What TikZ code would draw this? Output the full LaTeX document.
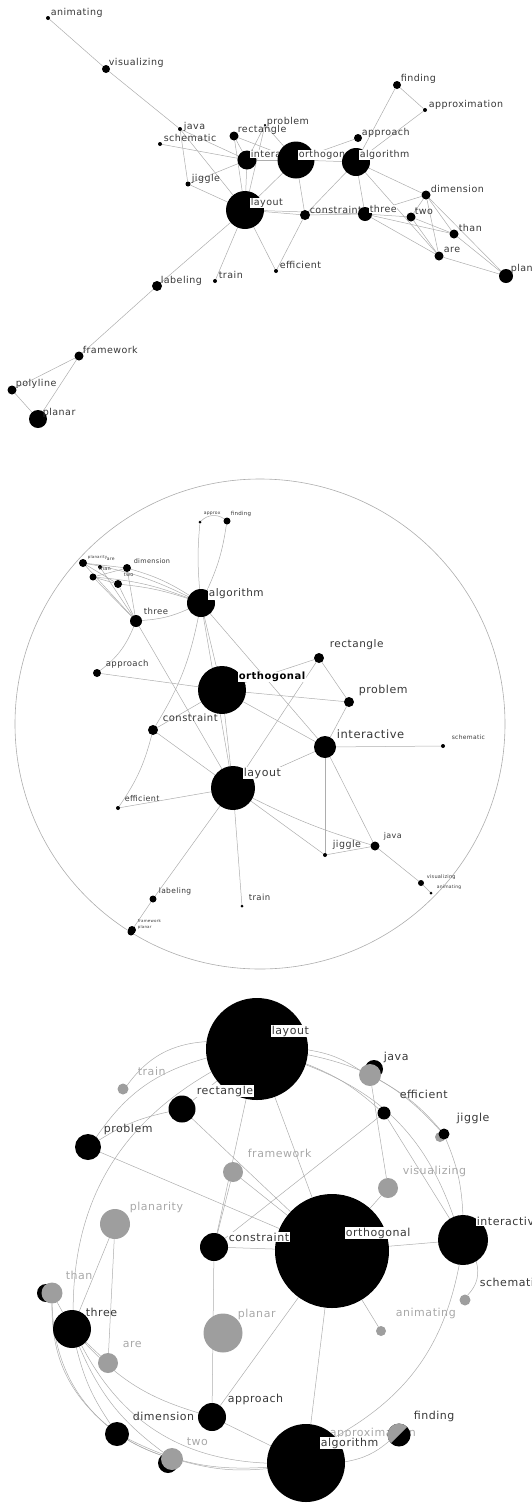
\documentclass[tikz,border=0pt]{standalone}
\usepackage{fontspec}
\newfontfamily\lab[LetterSpace=5]{DejaVu Sans}
\definecolor{edg}{gray}{0.68}
\definecolor{gnode}{gray}{0.62}
\definecolor{txt}{gray}{0.22}
\definecolor{txtl}{gray}{0.66}
\pgfdeclarelayer{edges}
\pgfsetlayers{edges,main}
\tikzset{
  bk/.style={circle, fill=black, inner sep=0pt, outer sep=0pt},
  gy/.style={circle, fill=gnode, inner sep=0pt, outer sep=0pt},
  ed/.style={draw=edg, line width=0.5pt},
  lb/.style={anchor=west, inner sep=0.6pt, text=txt},
  lbw/.style={lb, fill=white},
  lbl/.style={lb, text=txtl},
}
\newcommand\mynode[4]{\node[#1, minimum size=#4pt] (#2) at (#3) {};}
\newcommand\mylab[5]{\node[#1, font={\lab\fontsize{#4}{#4}\selectfont}] (#2) at (#3) {#5};}
\begin{document}
\begin{tikzpicture}[x=1pt,y=-1pt]
\useasboundingbox (0,0) rectangle (532,1505);
\clip (0,0) rectangle (532,1505);
% ================= PANEL 1 =================
\mynode{bk}{a-animating}{48,18}{4}
\mynode{bk}{a-visualizing}{106,69}{8}
\mynode{bk}{a-java}{180,129}{4}
\mynode{bk}{a-schematic}{160,144}{4}
\mynode{bk}{a-rectangle}{234,136}{9}
\mynode{bk}{a-problem}{265,125}{2.5}
\mynode{bk}{a-jiggle}{188,184}{5}
\mynode{bk}{a-approach}{358,138}{8}
\mynode{bk}{a-finding}{397,85}{8}
\mynode{bk}{a-approximation}{425,110}{4}
\mynode{bk}{a-dimension}{426,195}{9}
\mynode{bk}{a-constraint}{305,215}{10}
\mynode{bk}{a-two}{411,217}{9}
\mynode{bk}{a-than}{454,234}{9}
\mynode{bk}{a-are}{439,256}{9}
\mynode{bk}{a-planarity}{506,276}{14}
\mynode{bk}{a-efficient}{276,271}{4}
\mynode{bk}{a-train}{215,281}{4}
\mynode{bk}{a-labeling}{157,286}{10}
\mynode{bk}{a-framework}{79,356}{9}
\mynode{bk}{a-polyline}{12,390}{9}
\mynode{bk}{a-planar}{38,419}{18}
\mylab{lb}{a-animating-t}{50,13}{9.5}{animating}
\mylab{lb}{a-visualizing-t}{108,63}{9.5}{visualizing}
\mylab{lb}{a-java-t}{183,127}{9.5}{java}
\mylab{lb}{a-schematic-t}{163,138}{9.5}{schematic}
\mylab{lb}{a-rectangle-t}{237,130}{9.5}{rectangle}
\mylab{lb}{a-problem-t}{266,122}{9.5}{problem}
\mylab{lb}{a-jiggle-t}{191,179}{9.5}{jiggle}
\mylab{lb}{a-approach-t}{361,133}{9.5}{approach}
\mylab{lb}{a-finding-t}{400,79}{9.5}{finding}
\mylab{lb}{a-approximation-t}{428,105}{9.5}{approximation}
\mylab{lb}{a-dimension-t}{430,189}{9.5}{dimension}
\mylab{lb}{a-constraint-t}{309,210}{9.5}{constraint}
\mylab{lb}{a-two-t}{414,211}{9.5}{two}
\mylab{lb}{a-than-t}{458,228}{9.5}{than}
\mylab{lb}{a-are-t}{443,250}{9.5}{are}
\mylab{lb}{a-planarity-t}{510,269}{9.5}{planarity}
\mylab{lb}{a-efficient-t}{279,265}{9.5}{efficient}
\mylab{lb}{a-train-t}{218,275}{9.5}{train}
\mylab{lb}{a-labeling-t}{160,281}{9.5}{labeling}
\mylab{lb}{a-framework-t}{82,350}{9.5}{framework}
\mylab{lb}{a-polyline-t}{15,384}{9.5}{polyline}
\mylab{lb}{a-planar-t}{42,413}{9.5}{planar}
\mynode{bk}{a-interactive}{247,160}{19}
\mylab{lbw}{a-interactive-t}{250,154}{9.5}{interactive}
\mynode{bk}{a-orthogonal}{296,160}{37}
\mylab{lbw}{a-orthogonal-t}{298,155}{9.5}{orthogonal}
\mynode{bk}{a-algorithm}{356,162}{28}
\mylab{lbw}{a-algorithm-t}{359,155}{9.5}{algorithm}
\mynode{bk}{a-layout}{245,210}{38}
\mylab{lbw}{a-layout-t}{250,203}{9.5}{layout}
\mynode{bk}{a-three}{365,214}{14}
\mylab{lbw}{a-three-t}{369,209}{9.5}{three}
\begin{pgfonlayer}{edges}
\foreach \u/\v in {animating/visualizing, visualizing/java, java/jiggle, java/layout, java/interactive, schematic/interactive, jiggle/interactive, jiggle/layout, rectangle/interactive, rectangle/orthogonal, rectangle/layout, problem/interactive, problem/orthogonal, problem/layout, interactive/orthogonal, interactive/layout, orthogonal/layout, orthogonal/algorithm, orthogonal/approach, orthogonal/constraint, algorithm/finding, algorithm/approximation, finding/approximation, algorithm/constraint, algorithm/three, algorithm/dimension, algorithm/are, three/dimension, three/two, three/than, three/are, dimension/two, dimension/than, dimension/are, dimension/planarity, two/than, two/are, than/planarity, are/planarity, constraint/three, layout/constraint, layout/three, constraint/efficient, layout/efficient, layout/train, layout/labeling, labeling/framework, framework/polyline, framework/planar, polyline/planar}
  \draw[ed] (a-\u) -- (a-\v);
\end{pgfonlayer}
% ================= PANEL 2 =================
\draw[draw=edg, line width=0.6pt] (260,724) circle [radius=245pt];
\mynode{bk}{b-approx}{200,522}{3}
\mynode{bk}{b-finding}{227,521}{7}
\mynode{bk}{b-planarity}{83,563}{8}
\mynode{bk}{b-are}{100,567}{4}
\mynode{bk}{b-than}{93,577}{7}
\mynode{bk}{b-dimension}{127,568}{8}
\mynode{bk}{b-two}{118,584}{8}
\mynode{bk}{b-three}{136,621}{12}
\mynode{bk}{b-approach}{97,673}{8}
\mynode{bk}{b-rectangle}{319,658}{10}
\mynode{bk}{b-problem}{349,702}{10}
\mynode{bk}{b-interactive}{325,747}{22}
\mynode{bk}{b-schematic}{443,746}{4}
\mynode{bk}{b-constraint}{153,730}{10}
\mynode{bk}{b-efficient}{118,808}{4}
\mynode{bk}{b-jiggle}{325,855}{4}
\mynode{bk}{b-java}{375,846}{9}
\mynode{bk}{b-visualizing}{421,883}{6}
\mynode{bk}{b-animating}{431,893}{3}
\mynode{bk}{b-labeling}{153,899}{7}
\mynode{bk}{b-framework}{132,930}{8}
\mynode{bk}{b-planar}{131,932}{7}
\mynode{bk}{b-train}{242,906}{3}
\mylab{lb}{b-approx-t}{203,514}{4.5}{approx}
\mylab{lb}{b-finding-t}{230,514}{5.5}{finding}
\mylab{lb}{b-planarity-t}{87,557}{4}{planarity}
\mylab{lb}{b-are-t}{106,559}{4.5}{are}
\mylab{lb}{b-than-t}{98,569}{5}{than}
\mylab{lb}{b-dimension-t}{133,561}{6.5}{dimension}
\mylab{lb}{b-two-t}{123,575}{5}{two}
\mylab{lb}{b-three-t}{143,611}{8.5}{three}
\mylab{lb}{b-approach-t}{105,664}{8.5}{approach}
\mylab{lb}{b-rectangle-t}{329,645}{10.5}{rectangle}
\mylab{lb}{b-problem-t}{358,690}{11}{problem}
\mylab{lb}{b-interactive-t}{336,734}{11.5}{interactive}
\mylab{lb}{b-schematic-t}{451,737}{6}{schematic}
\mylab{lb}{b-constraint-t}{162,718}{10}{constraint}
\mylab{lb}{b-efficient-t}{124,799}{8}{efficient}
\mylab{lb}{b-jiggle-t}{332,845}{9.5}{jiggle}
\mylab{lb}{b-java-t}{383,836}{8}{java}
\mylab{lb}{b-visualizing-t}{426,877}{5}{visualizing}
\mylab{lb}{b-animating-t}{436,887}{4.5}{animating}
\mylab{lb}{b-labeling-t}{158,891}{7.5}{labeling}
\mylab{lb}{b-framework-t}{137,921}{4}{framework}
\mylab{lb}{b-planar-t}{137,927}{4}{planar}
\mylab{lb}{b-train-t}{248,897}{8.5}{train}
\mynode{bk}{b-algorithm}{201,603}{28}
\mylab{lbw}{b-algorithm-t}{208,594}{10.5}{algorithm}
\mynode{bk}{b-orthogonal}{222,690}{48}
\node[lbw, font={\lab\bfseries\fontsize{10}{10}\selectfont}, text=black] (b-orthogonal-t) at (238,677) {orthogonal};
\mynode{bk}{b-layout}{233,788}{44}
\mylab{lbw}{b-layout-t}{243,773}{11}{layout}
\begin{pgfonlayer}{edges}
\foreach \u/\v in {three/layout, approach/orthogonal, algorithm/orthogonal, algorithm/interactive, algorithm/layout, orthogonal/rectangle, orthogonal/problem, orthogonal/interactive, orthogonal/constraint, orthogonal/layout, rectangle/problem, rectangle/layout, problem/interactive, interactive/layout, interactive/schematic, interactive/jiggle, interactive/java, layout/jiggle, layout/efficient, layout/constraint, layout/labeling, layout/train, labeling/framework, jiggle/java, java/visualizing, visualizing/animating, planarity/three, than/three, dimension/three, two/three, are/three, planarity/dimension, planarity/two, than/two, than/dimension}
  \draw[ed] (b-\u) -- (b-\v);
\foreach \u/\v/\b in {approx/finding/40, approx/algorithm/-5, finding/algorithm/8, three/algorithm/-10, three/approach/15, algorithm/constraint/10, constraint/efficient/10, layout/java/-5, planarity/algorithm/8, dimension/algorithm/8, two/algorithm/6, than/algorithm/8}
  \draw[ed] (b-\u) to[bend left=\b] (b-\v);
\end{pgfonlayer}
% ================= PANEL 3 =================
% back (grey) nodes
\mynode{bk}{c-javab}{374,1069}{18}
\mynode{bk}{c-thanb}{46,1293}{18}
\mynode{bk}{c-twob}{168,1463}{20}
\mynode{gy}{c-jiggleb}{440,1137}{10}
\mynode{gy}{c-train}{123,1089}{11}
\mynode{gy}{c-java}{370,1075}{22}
\mynode{gy}{c-framework}{233,1172}{20}
\mynode{gy}{c-visualizing}{388,1188}{20}
\mynode{gy}{c-planarity}{115,1224}{30}
\mynode{gy}{c-than}{52,1293}{21}
\mynode{gy}{c-schematic}{465,1300}{11}
\mynode{gy}{c-planar}{223,1333}{39}
\mynode{gy}{c-are}{108,1363}{20}
\mynode{gy}{c-animating}{381,1331}{10}
\mynode{gy}{c-two}{172,1459}{22}
\mynode{gy}{c-approximation}{330,1440}{10}
\mylab{lbl}{c-train-t}{137,1071}{11}{train}
\mylab{lbl}{c-framework-t}{247,1153}{11}{framework}
\mylab{lbl}{c-visualizing-t}{402,1171}{11}{visualizing}
\mylab{lbl}{c-planarity-t}{129,1207}{11}{planarity}
\mylab{lbl}{c-than-t}{65,1275}{11}{than}
\mylab{lbl}{c-planar-t}{237,1314}{11}{planar}
\mylab{lbl}{c-are-t}{122,1344}{11}{are}
\mylab{lbl}{c-animating-t}{395,1313}{11}{animating}
\mylab{lbl}{c-two-t}{186,1442}{11}{two}
\mylab{lbl}{c-approximation-t}{329,1433}{11}{approximation}
% front (black) nodes
\mynode{bk}{c-layout}{257,1049}{102}
\mynode{bk}{c-rectangle}{182,1109}{27}
\mynode{bk}{c-problem}{88,1147}{26}
\mynode{bk}{c-efficient}{384,1113}{13}
\mynode{bk}{c-jiggle}{444,1134}{11}
\mynode{bk}{c-constraint}{214,1247}{28}
\mynode{bk}{c-orthogonal}{332,1251}{114}
\mynode{bk}{c-interactive}{463,1240}{50}
\mynode{bk}{c-three}{72,1329}{38}
\mynode{bk}{c-approach}{212,1417}{28}
\mynode{bk}{c-dimension}{117,1434}{24}
\node[bk, minimum size=23pt, path picture={\fill[gnode] (path picture bounding box.north west) -- (path picture bounding box.north east) -- (path picture bounding box.south west) -- cycle;}] (c-finding) at (399,1435) {};
\mynode{bk}{c-algorithm}{306,1463}{78}
\mylab{lbw}{c-layout-t}{271,1031}{11}{layout}
\mylab{lbw}{c-rectangle-t}{196,1091}{11}{rectangle}
\mylab{lb}{c-problem-t}{103,1129}{11}{problem}
\mylab{lb}{c-java-t}{383,1057}{11}{java}
\mylab{lb}{c-efficient-t}{399,1094}{11}{efficient}
\mylab{lb}{c-jiggle-t}{456,1118}{11}{jiggle}
\mylab{lbw}{c-constraint-t}{228,1237}{11}{constraint}
\mylab{lbw}{c-orthogonal-t}{345,1233}{11}{orthogonal}
\mylab{lbw}{c-interactive-t}{476,1221}{11}{interactive}
\mylab{lb}{c-three-t}{85,1312}{11}{three}
\mylab{lb}{c-schematic-t}{479,1282}{11}{schematic}
\mylab{lb}{c-approach-t}{227,1399}{11}{approach}
\mylab{lb}{c-dimension-t}{132,1416}{11}{dimension}
\mylab{lb}{c-finding-t}{413,1416}{11}{finding}
\mylab{lbw}{c-algorithm-t}{320,1443}{11}{algorithm}
\begin{pgfonlayer}{edges}
\foreach \u/\v in {layout/rectangle, layout/constraint, layout/orthogonal, rectangle/orthogonal, problem/orthogonal, efficient/constraint, efficient/interactive, java/visualizing, visualizing/orthogonal, interactive/orthogonal, orthogonal/algorithm, orthogonal/approach, orthogonal/animating, constraint/approach, approach/algorithm, framework/constraint, framework/orthogonal, planarity/three, planarity/are, three/are, constraint/orthogonal, three/than}
  \draw[ed] (c-\u) -- (c-\v);
\foreach \u/\v/\b in {layout/train/-25, layout/problem/-20, layout/three/-30, layout/java/12, layout/efficient/10, layout/jiggle/18, layout/interactive/25, rectangle/problem/-10, java/jiggle/10, jiggle/interactive/10, interactive/schematic/30, interactive/approximation/25, three/approach/-15, three/dimension/-10, three/two/-15, three/algorithm/-30, dimension/two/-5, dimension/algorithm/-15, two/algorithm/-10, than/dimension/-25, finding/algorithm/15, than/two/-35}
  \draw[ed] (c-\u) to[bend left=\b] (c-\v);
\end{pgfonlayer}
\end{tikzpicture}
\end{document}
